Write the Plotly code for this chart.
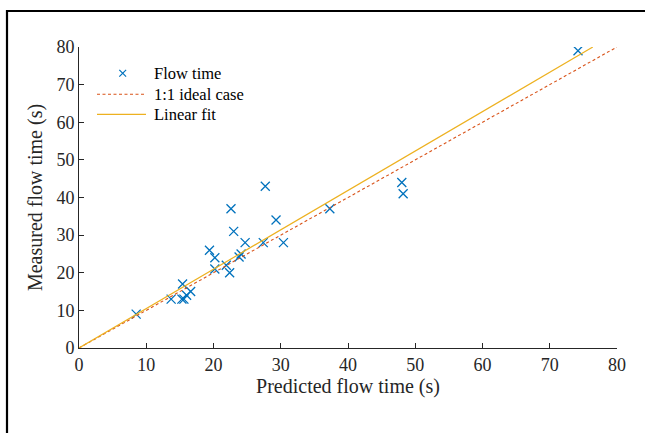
import numpy as np
import plotly.graph_objects as go

# Data
predicted = [74.2, 48.0, 48.2, 37.3, 27.7, 22.6, 29.3, 23.0, 24.7, 27.4, 30.4,
             19.4, 20.2, 24.1, 23.8, 20.2, 21.9, 22.4, 15.4, 16.6, 16.0, 15.3,
             15.6, 13.7, 8.5]
measured = [79, 44, 41, 37, 43, 37, 34, 31, 28, 28, 28,
            26, 24, 25, 24.2, 21, 22, 20, 17, 15, 14, 13,
            13, 13, 9]
ideal_x = [0, 80]
fit_slope = 1.047
fit_x = [0, 76.4]
ticks = [0, 10, 20, 30, 40, 50, 60, 70, 80]
legend_names = ["Flow time", "1:1 ideal case", "Linear fit"]

FONT = "Liberation Serif, Times New Roman, serif"
BLUE, RED, YELLOW = "#0072BD", "#D95319", "#EDB120"

W, H = 645, 433
L, R, T, B = 79, 28, 47, 85
PW, PH = W - L - R, H - T - B


def px(xp):
    return (xp - L) / PW


def py(yp):
    return (H - B - yp) / PH


fig = go.Figure()
fig.add_trace(go.Scatter(
    x=predicted, y=measured, mode="markers", name=legend_names[0],
    marker=dict(symbol="x-thin", size=9, line=dict(color=BLUE, width=1.3), color=BLUE)))
fig.add_trace(go.Scatter(
    x=ideal_x, y=ideal_x, mode="lines", name=legend_names[1],
    line=dict(color=RED, width=1.1, dash="3px,2.5px")))
fig.add_trace(go.Scatter(
    x=fit_x, y=[fit_slope * v for v in fit_x], mode="lines", name=legend_names[2],
    line=dict(color=YELLOW, width=1.2)))

axis_common = dict(
    range=[0, 80], tickvals=ticks, ticks="inside", ticklen=5, tickwidth=1,
    tickcolor="#262626", showline=True, linecolor="#262626", linewidth=1,
    showgrid=False, zeroline=False, automargin=False,
    tickfont=dict(family=FONT, size=18, color="#262626"),
    title_font=dict(family=FONT, size=20, color="#262626"),
)

fig.update_layout(
    width=W, height=H,
    margin=dict(l=L, r=R, t=T, b=B),
    paper_bgcolor="white", plot_bgcolor="white",
    xaxis=dict(**axis_common, title=dict(text="Predicted flow time (s)", standoff=2)),
    yaxis=dict(**axis_common, title=dict(text="Measured flow time (s)", standoff=8)),
    showlegend=False,
)

# Manual legend (MATLAB style, no box)
rows_y = [73.3, 94.3, 114.3]
shapes = []
mx, my, ms = 122.7, rows_y[0], 3.4
shapes.append(dict(type="line", xref="paper", yref="paper",
                   x0=px(mx - ms), x1=px(mx + ms), y0=py(my - ms), y1=py(my + ms),
                   line=dict(color=BLUE, width=1.2)))
shapes.append(dict(type="line", xref="paper", yref="paper",
                   x0=px(mx - ms), x1=px(mx + ms), y0=py(my + ms), y1=py(my - ms),
                   line=dict(color=BLUE, width=1.2)))
shapes.append(dict(type="line", xref="paper", yref="paper",
                   x0=px(97), x1=px(146), y0=py(rows_y[1]), y1=py(rows_y[1]),
                   line=dict(color=RED, width=1.1, dash="3px,2.5px")))
shapes.append(dict(type="line", xref="paper", yref="paper",
                   x0=px(97), x1=px(146), y0=py(rows_y[2]), y1=py(rows_y[2]),
                   line=dict(color=YELLOW, width=1.2)))
# figure frame
shapes.append(dict(type="rect", xref="paper", yref="paper",
                   x0=px(7), x1=px(W + 20), y0=py(H + 20), y1=py(11),
                   line=dict(color="black", width=2.2), fillcolor="rgba(0,0,0,0)",
                   layer="above"))

annotations = [dict(text=name, xref="paper", yref="paper", x=px(151.5), y=py(yv),
                    xanchor="left", yanchor="middle", showarrow=False,
                    font=dict(family=FONT, size=16.5, color="black"))
               for name, yv in zip(legend_names, rows_y)]

fig.update_layout(shapes=shapes, annotations=annotations)

fig.write_html("out.html", config={"displayModeBar": False},
               post_script="document.body.style.margin='0';")
